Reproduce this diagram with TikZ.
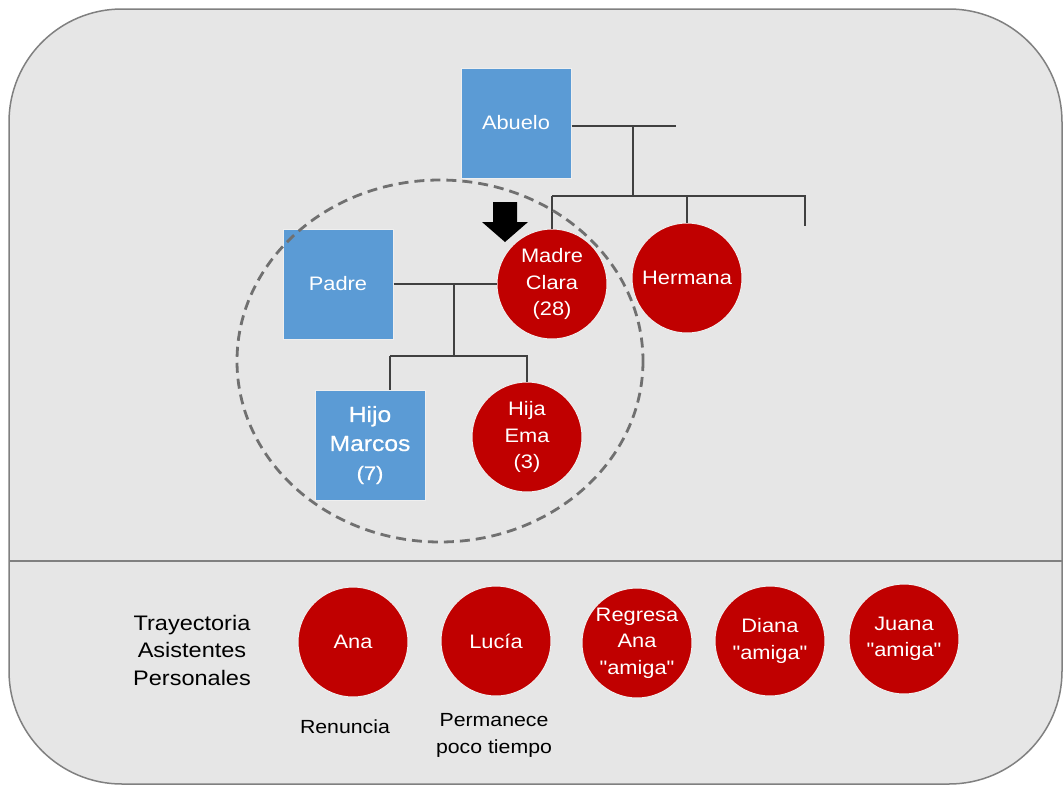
\documentclass[tikz,border=0pt]{standalone}
\usepackage{fontspec}
\setmainfont{Liberation Sans}
\newfontfamily\nodefont{Liberation Sans}[FakeStretch=1.12]
\usetikzlibrary{calc}
\definecolor{myblue}{HTML}{5B9BD5}
\definecolor{myred}{HTML}{C00000}
\definecolor{bggray}{HTML}{E6E6E6}
\definecolor{framegray}{HTML}{808080}
\definecolor{linegray}{HTML}{404040}
\definecolor{dashgray}{HTML}{707070}
\definecolor{halo}{HTML}{EFEFEF}
\begin{document}
\begin{tikzpicture}[x=1pt,y=-1pt,
  person/.style={minimum size=110pt, inner sep=0pt, text=white, align=center, draw=halo, line width=1pt, font=\nodefont\fontsize{19.5}{26.5}\selectfont},
  malebox/.style={person, rectangle, fill=myblue},
  femcirc/.style={person, circle, fill=myred},
  tie/.style={draw=linegray, line width=1.4pt},
  ring/.style={draw=dashgray, line width=2.8pt, dash pattern=on 10pt off 6pt},
  plain/.style={text=black, align=center, font=\nodefont\fontsize{21}{27.5}\selectfont},
  note/.style={text=black, align=center, font=\nodefont\fontsize{19}{27}\selectfont},
]
\useasboundingbox (0,0) rectangle (1063,785);
\draw[fill=bggray, draw=framegray, line width=1.5pt, rounded corners=113pt] (9,9) rectangle (1062,784);
\draw[draw=framegray, line width=1.5pt] (9,561) -- (1062,561);

% family nodes
\node[malebox] (abuelo) at (516,123) {Abuelo};
\node[malebox] (padre) at (338,284) {Padre};
\node[femcirc] (madre) at (552,284) {Madre\\Clara\\(28)};
\node[femcirc] (hermana) at (687,278) {Hermana};
\node[malebox, font=\nodefont\addfontfeature{FakeBold=0.6}\fontsize{22}{29}\selectfont] (hijo) at (370,445) {Hijo\\Marcos\\{\fontsize{19.5}{26}\selectfont(7)}};
\node[femcirc] (hija) at (527,437) {Hija\\Ema\\(3)};

% assistants
\node[femcirc] (ana) at (353,642) {Ana};
\node[femcirc] (lucia) at (496,641) {Lucía};
\node[femcirc] (regresa) at (637,643) {Regresa\\Ana\\"amiga"};
\node[femcirc] (diana) at (770,641) {Diana\\"amiga"};
\node[femcirc] (juana) at (904,639) {Juana\\"amiga"};

\node[plain] (tray) at (192,650) {Trayectoria\\Asistentes\\Personales};
\node[note] (ren) at (345,727) {Renuncia};
\node[note] (perm) at (494,735) {Permanece\\poco tiempo};

% connectors
\coordinate (aend) at (676,126);
\coordinate (j1) at (633,126);
\coordinate (j2) at (633,196);
\coordinate (send) at (805,196);
\coordinate (sdrop) at (805,226);
\draw[tie] (abuelo.east |- aend) -- (aend);
\draw[tie] (j1) -- (j2);
\draw[tie] (madre.north |- j2) -- (send) -- (sdrop);
\draw[tie] (madre.north |- j2) -- (madre.north);
\draw[tie] (hermana.north |- j2) -- (hermana.north);

\coordinate (k1) at (454,284);
\coordinate (k2) at (454,356);
\coordinate (hdrop) at (390,356);
\draw[tie] (padre.east) -- (madre.west);
\draw[tie] (k1) -- (k2);
\draw[tie] (hdrop) -- (hija.north |- k2) -- (hija.north);
\draw[tie] (hdrop) -- (hdrop |- hijo.north);

% index arrow
\fill[black] (493,202) -- (517,202) -- (517,222) -- (528,222) -- (505,242) -- (482,222) -- (493,222) -- cycle;

% household ring
\draw[ring] (440,361) ellipse [x radius=203, y radius=181];
\end{tikzpicture}
\end{document}
